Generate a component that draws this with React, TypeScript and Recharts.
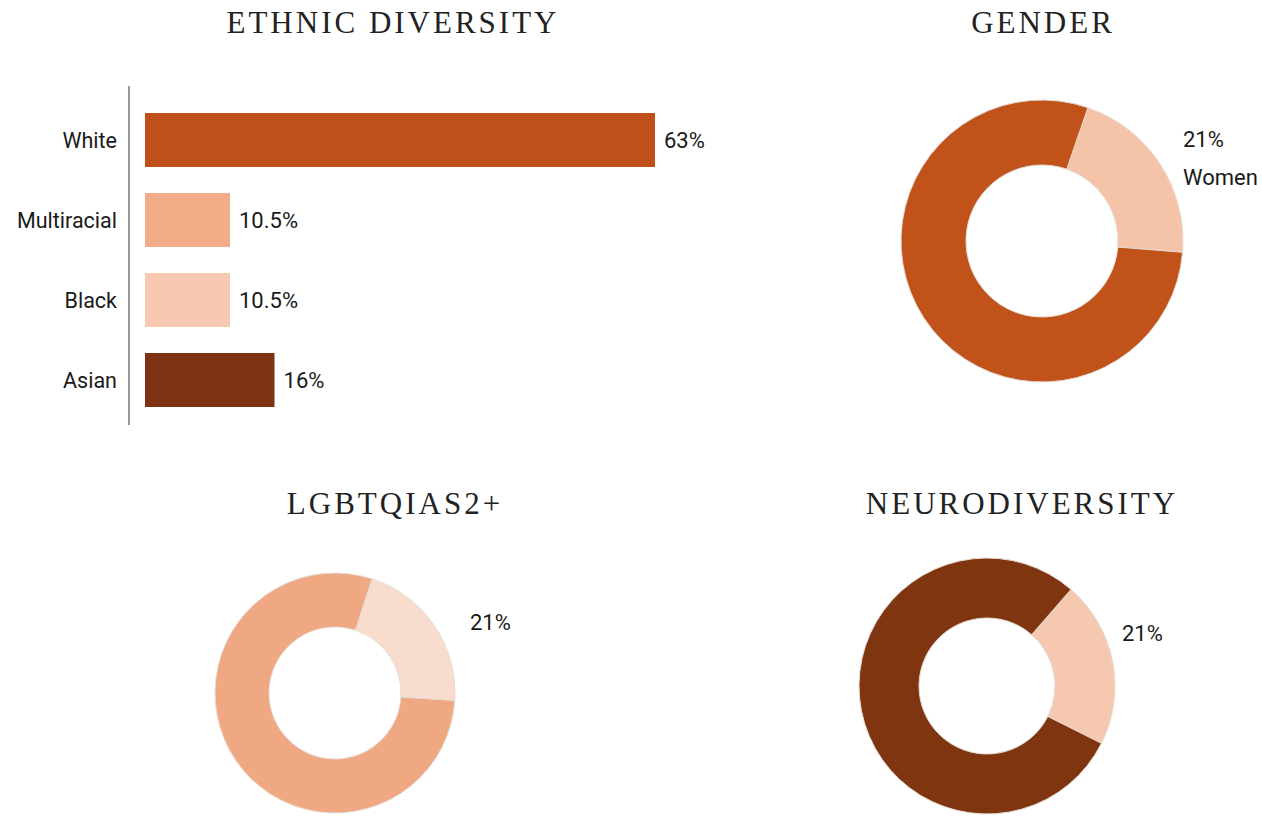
import { BarChart, Bar, XAxis, YAxis, Cell, LabelList, PieChart, Pie } from 'recharts'

const ethnicCategories = ['White', 'Multiracial', 'Black', 'Asian']
const ethnicValues = [63, 10.5, 10.5, 16]
const ethnicLabels = ['63%', '10.5%', '10.5%', '16%']
const ethnicColors = ['#C05019', '#F2AC88', '#F7C9B2', '#7E3412']

const splitNames = ['Minority', 'Other']
const genderValues = [21, 79]
const genderLabel = ['21%', 'Women']
const lgbtqValues = [21, 79]
const neuroValues = [21, 79]

const ethnicData = ethnicCategories.map((name, i) => ({
  name,
  value: ethnicValues[i],
  label: ethnicLabels[i],
}))

const toPie = (vals: number[]) => vals.map((value, i) => ({ name: splitNames[i], value }))

const SANS = 'Roboto, "Noto Sans", sans-serif'
const SERIF = '"Liberation Serif", "DejaVu Serif", serif'
const INK = '#1a1a1a'

function Title({ text, cx, top }: { text: string; cx: number; top: number }) {
  return (
    <div
      style={{
        position: 'absolute',
        left: cx - 250,
        top,
        width: 500,
        textAlign: 'center',
        fontFamily: SERIF,
        fontSize: 31,
        lineHeight: '31px',
        letterSpacing: 3,
        paddingLeft: 3,
        color: '#222',
      }}
    >
      {text}
    </div>
  )
}

interface DonutProps {
  values: number[]
  colors: string[]
  cx: number
  cy: number
  inner: number
  outer: number
  start: number
  lines: string[]
  dx: number
  dy: number
}

function Donut({ values, colors, cx, cy, inner, outer, start, lines, dx, dy }: DonutProps) {
  const W = 460
  const H = 340
  const renderLabel = (p: any) => {
    if (p.index !== 0) return null
    const x = p.cx + p.outerRadius + dx
    const y = p.cy + dy
    return (
      <text x={x} y={y} fill={INK} fontSize={22} fontFamily={SANS} dominantBaseline="central">
        {lines.map((t, i) => (
          <tspan key={t} x={x} dy={i === 0 ? 0 : 38}>
            {t}
          </tspan>
        ))}
      </text>
    )
  }
  return (
    <div style={{ position: 'absolute', left: cx - 200, top: cy - 170 }}>
      <PieChart width={W} height={H} margin={{ top: 0, right: 0, bottom: 0, left: 0 }}>
        <Pie
          data={toPie(values)}
          dataKey="value"
          cx={200}
          cy={170}
          innerRadius={inner}
          outerRadius={outer}
          startAngle={start}
          endAngle={start - 360}
          stroke="#e6dcd6"
          strokeWidth={1}
          label={renderLabel}
          labelLine={false}
          isAnimationActive={false}
        >
          {values.map((_, i) => (
            <Cell key={i} fill={colors[i]} />
          ))}
        </Pie>
      </PieChart>
    </div>
  )
}

export default function App() {
  return (
    <div
      style={{
        position: 'fixed',
        left: 0,
        top: 0,
        width: 1262,
        height: 817,
        overflow: 'hidden',
        background: '#fff',
      }}
    >
      <Title text="ETHNIC DIVERSITY" cx={390} top={7} />
      <Title text="GENDER" cx={1040} top={7} />
      <Title text="LGBTQIAS2+" cx={392} top={488} />
      <Title text="NEURODIVERSITY" cx={1019} top={488} />

      <div style={{ position: 'absolute', left: 0, top: 0 }}>
        <BarChart
          width={760}
          height={440}
          data={ethnicData}
          layout="vertical"
          margin={{ top: 86, right: 105, bottom: 15, left: 0 }}
        >
          <XAxis type="number" domain={[0, 63]} hide padding={{ left: 16, right: 0 }} />
          <YAxis
            type="category"
            dataKey="name"
            width={129}
            padding={{ top: 14, bottom: 5 }}
            axisLine={{ stroke: '#333', strokeWidth: 1 }}
            tickLine={false}
            tickSize={0}
            tickMargin={12}
            tick={{ fill: INK, fontSize: 21.5, fontFamily: SANS }}
          />
          <Bar dataKey="value" barSize={54} isAnimationActive={false}>
            {ethnicData.map((_, i) => (
              <Cell key={i} fill={ethnicColors[i]} />
            ))}
            <LabelList
              dataKey="label"
              position="right"
              offset={9}
              fill={INK}
              fontSize={22}
              fontFamily={SANS}
            />
          </Bar>
        </BarChart>
      </div>

      <Donut
        values={genderValues}
        colors={['#F5C4A8', '#C0521A']}
        cx={1042}
        cy={241}
        inner={76}
        outer={141}
        start={71}
        lines={genderLabel}
        dx={0}
        dy={-102}
      />
      <Donut
        values={lgbtqValues}
        colors={['#F8DDCF', '#F0A883']}
        cx={335}
        cy={693}
        inner={66}
        outer={120}
        start={72}
        lines={['21%']}
        dx={15}
        dy={-71}
      />
      <Donut
        values={neuroValues}
        colors={['#F6C8B0', '#7F3510']}
        cx={987}
        cy={686}
        inner={68}
        outer={128}
        start={49}
        lines={['21%']}
        dx={7}
        dy={-53}
      />
    </div>
  )
}
